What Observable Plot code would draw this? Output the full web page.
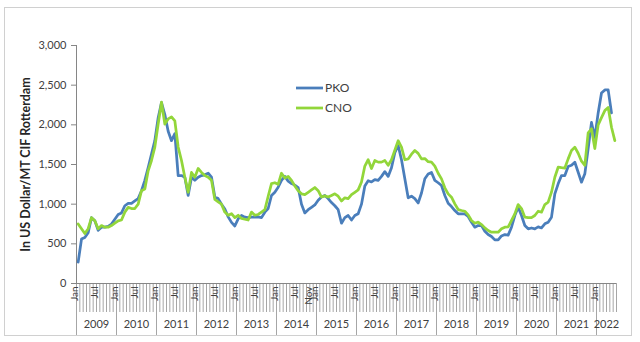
<!DOCTYPE html>
<html><head><meta charset="utf-8">
<script src="https://cdn.jsdelivr.net/npm/d3@7"></script>
<script src="https://cdn.jsdelivr.net/npm/@observablehq/plot@0.6"></script>
<style>
body{margin:0;background:#fff;font-family:Lato,"Open Sans",sans-serif;}
#wrap{position:relative;width:640px;height:342px;overflow:hidden}
#border{position:absolute;left:4px;top:7px;width:628px;height:329px;border:1px solid #d0d0d0;box-sizing:border-box;pointer-events:none}
#legend{position:absolute;left:296px;top:80px}
</style></head><body>
<div id="wrap"><div id="chart"></div><div id="border"></div><div id="legend"></div></div>
<script>
const years = ["2009","2010","2011","2012","2013","2014","2015","2016","2017","2018","2019","2020","2021","2022"];
const monthsPerYear = [12,12,12,12,12,12,12,12,12,12,12,12,12,6];
const monthNames = ["Jan","Feb","Mar","Apr","May","Jun","Jul","Aug","Sep","Oct","Nov","Dec"];
const labeledMonths = ["Jan","Jul"];
const strayLabels = [{year:"2014", month:"Nov"}];
const yTicks = [0,500,1000,1500,2000,2500,3000];
const seriesNames = ["PKO","CNO"];
const seriesColors = ["#4a7ebb","#92d63a"];
const yTitle = "In US Dollar/MT CIF Rotterdam";

const pko = [
 270,560,580,640,830,790,670,710,710,720,750,810,
 870,890,980,1010,1010,1040,1070,1170,1300,1460,1630,1800,
 2090,2280,2130,1920,1800,1890,1360,1360,1340,1110,1340,1300,
 1340,1360,1370,1390,1340,1090,1070,1000,940,840,770,725,
 815,857,836,830,836,836,840,830,899,945,1109,1151,
 1214,1300,1350,1290,1260,1240,1210,1000,890,930,960,990,
 1050,1090,1110,1070,1020,980,930,760,830,857,800,857,
 880,1000,1230,1295,1280,1310,1300,1350,1410,1350,1460,1650,
 1740,1560,1320,1080,1100,1070,1015,1140,1320,1380,1400,1300,
 1270,1235,1109,1012,970,920,878,878,878,844,773,710,
 731,731,659,617,592,550,550,600,617,610,710,857,
 962,857,731,689,700,689,714,700,752,773,836,1130,
 1256,1361,1361,1474,1490,1529,1403,1277,1382,1700,2030,1840,
 2150,2400,2440,2440,2150,null
];
const cno = [
 750,690,630,690,830,790,690,730,710,710,730,760,
 790,800,900,960,945,945,1000,1170,1190,1420,1550,1720,
 2010,2285,2010,2075,2100,2050,1720,1550,1340,1150,1400,1340,
 1450,1400,1360,1340,1300,1060,1030,1000,900,860,880,830,
 860,820,810,800,900,860,870,900,930,1100,1260,1270,
 1250,1390,1330,1350,1300,1230,1170,1130,1120,1150,1180,1210,
 1170,1090,1105,1090,1110,1130,1100,1040,1080,1070,1120,1150,
 1180,1280,1480,1560,1450,1550,1530,1530,1550,1490,1560,1680,
 1800,1720,1560,1570,1630,1676,1640,1571,1575,1535,1529,1480,
 1390,1319,1206,1130,1088,1004,932,920,911,865,794,760,
 773,743,701,668,647,647,647,689,710,714,794,878,
 995,945,836,830,830,857,911,899,995,1025,1151,1340,
 1466,1460,1455,1571,1676,1718,1642,1541,1490,1900,1950,1700,
 2000,2090,2180,2220,1970,1800
];

// build month index table
const months = [];
years.forEach((y, k) => {
  for (let m = 0; m < monthsPerYear[k]; m++) months.push({year: y, month: monthNames[m]});
});
const N = months.length;
const rows = months.map((d, i) => ({t: i + 0.5, pko: pko[i], cno: cno[i]}));
const monthEdges = d3.range(N + 1);
const yearEdges = [];
const yearCenters = [];
let acc = 0;
years.forEach((y, k) => {
  yearEdges.push(acc);
  yearCenters.push({c: acc + monthsPerYear[k] / 2, year: y});
  acc += monthsPerYear[k];
});
const monthLabelData = months
  .map((d, i) => ({t: i + 0.5, label: d.month, keep: labeledMonths.includes(d.month) || strayLabels.some(s => s.year === d.year && s.month === d.month)}))
  .filter(d => d.keep);

const chart = Plot.plot({
  width: 640, height: 342,
  marginLeft: 76, marginRight: 24, marginTop: 45, marginBottom: 59,
  style: {fontFamily: "Lato, 'Open Sans', sans-serif", fontSize: "11px", color: "#404040", background: "transparent", overflow: "visible"},
  x: {domain: [0, N], axis: null},
  y: {domain: [0, 3000], axis: null},
  marks: [
    Plot.axisX({ticks: monthEdges, tickSize: 29, tickFormat: () => "", stroke: "#a6a6a6"}),
    Plot.axisX({ticks: yearEdges, tickSize: 53, tickFormat: () => "", stroke: "#a6a6a6"}),
    Plot.axisY({ticks: yTicks, tickSize: 5, tickPadding: 5, tickFormat: d3.format(","), stroke: "#868686", fill: "#404040", fontSize: 11}),
    Plot.ruleX([0], {stroke: "#868686"}),
    Plot.ruleY([0], {stroke: "#868686"}),
    Plot.text(monthLabelData, {x: "t", text: "label", frameAnchor: "bottom", rotate: -90, textAnchor: "end", dy: 3, fontSize: 10, fill: "#404040"}),
    Plot.text(yearCenters, {x: "c", text: "year", frameAnchor: "bottom", dy: 44, fontSize: 11, fill: "#404040"}),
    Plot.text([yTitle], {frameAnchor: "left", rotate: -90, textAnchor: "middle", dx: -51, fontWeight: "bold", fontSize: 12.5, fill: "#262626"}),
    Plot.line(rows, {x: "t", y: "pko", stroke: seriesColors[0], strokeWidth: 2.75, strokeLinejoin: "round"}),
    Plot.line(rows, {x: "t", y: "cno", stroke: seriesColors[1], strokeWidth: 2.75, strokeLinejoin: "round"})
  ]
});
document.getElementById("chart").appendChild(chart);

// legend
const leg = d3.select("#legend").append("svg").attr("width", 90).attr("height", 40)
  .style("font-family", "Lato, 'Open Sans', sans-serif").style("font-size", "12px");
seriesNames.forEach((name, k) => {
  const g = leg.append("g").attr("transform", `translate(0,${8 + k * 20})`);
  g.append("line").attr("x1", 0).attr("x2", 27).attr("stroke", seriesColors[k]).attr("stroke-width", 2.75);
  g.append("text").attr("x", 29).attr("dy", "0.35em").attr("fill", "#404040").text(name);
});
</script>
</body></html>
